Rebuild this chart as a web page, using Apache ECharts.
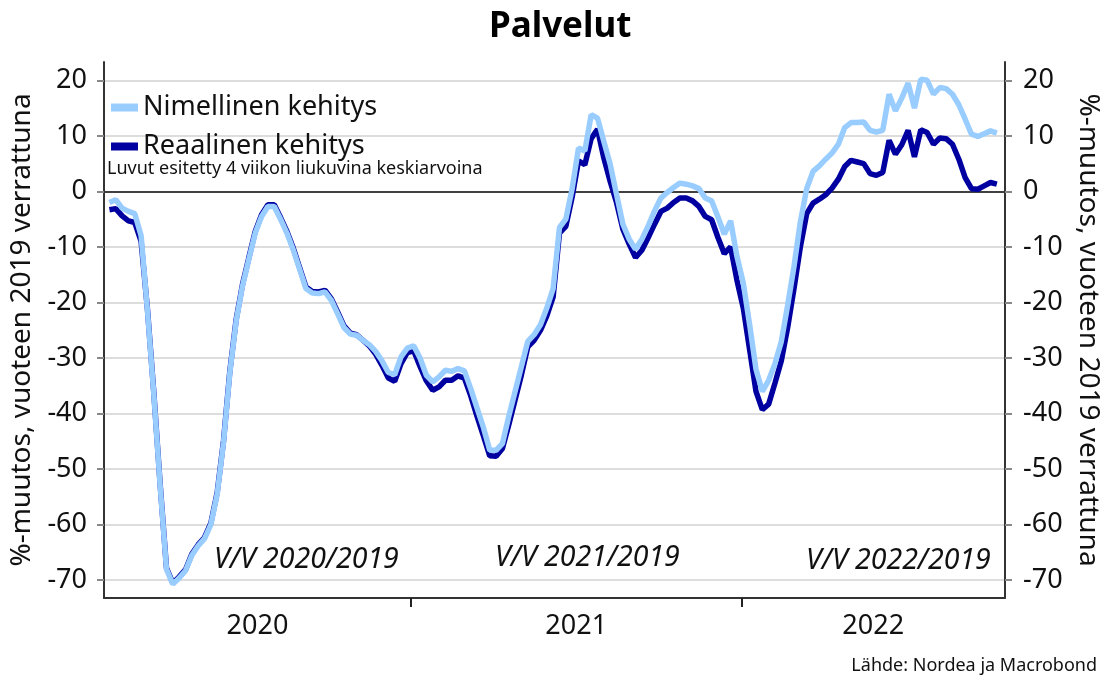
<!DOCTYPE html>
<html>
<head>
<meta charset="utf-8">
<title>Palvelut</title>
<script src="https://cdn.jsdelivr.net/npm/echarts@6/dist/echarts.min.js"></script>
<style>
  html, body { margin: 0; padding: 0; background: #fff; }
  #chart { width: 1100px; height: 678px; }
</style>
</head>
<body>
<div id="chart"></div>
<script>
// x-akseli päivinä 1.1.2020 alkaen; ensimmäinen havainto 3.2.2020 (päivä 33), sitten viikon välein
var firstDay = 33;
var stepDays = 7;

// Nimellinen kehitys, % vuoteen 2019 verrattuna (4 viikon liukuva ka.)
var nominal = [
  -2.0, -1.5, -3.0, -3.6, -4.0, -8.0, -21.5, -36.5, -53, -68,
  -70.7, -69.6, -68.3, -65.5, -63.8, -62.5, -60, -54.5, -45.2, -32.6,
  -23.3, -17, -12.2, -7.5, -4.5, -2.7, -2.7, -5, -7.5, -10.5,
  -14, -17.5, -18.3, -18.4, -18.1, -19.6, -22, -24.5, -25.7, -25.9,
  -26.8, -27.6, -28.8, -30.5, -32.6, -33, -29.8, -28.2, -27.8, -30,
  -33.1, -34.3, -33.4, -32.2, -32.4, -31.9, -32.3, -35.5, -39, -42.5,
  -46.6, -46.6, -45.4, -40.5, -36, -31.5, -27, -25.8, -24, -21,
  -17.5, -6.5, -5, 0.5, 7.8, 7.3, 13.8, 13.2, 9, 4.9,
  -0.5, -5.9, -8.6, -10.4, -8.6, -6.2, -3.5, -1.2, -0.2, 0.7,
  1.5, 1.3, 1.0, 0.5, -1.2, -1.7, -4.6, -7.7, -5.3, -11.7,
  -16.5, -24, -32, -36, -34, -31, -27, -20.5, -13.5, -5.5,
  0.5, 3.6, 4.6, 5.8, 6.9, 8.5, 11.5, 12.4, 12.4, 12.5,
  11, 10.7, 11, 17.5, 14.5, 16.8, 19.5, 15, 20.2, 20,
  17.5, 18.7, 18.5, 17.5, 15.6, 13, 10.3, 9.9, 10.4, 10.9,
  10.5
];

// Reaalinen kehitys
var real = [
  -3.3, -3.1, -4.4, -5.3, -5.6, -9, -21.2, -36.2, -52.7, -67.8,
  -70.5, -69.4, -68.1, -65.3, -63.6, -62.3, -59.7, -54.2, -44.9, -32.3,
  -23, -16.7, -11.9, -7.2, -4.2, -2.4, -2.4, -4.7, -7.2, -10.2,
  -13.7, -17.2, -18, -18.1, -17.8, -19.3, -21.7, -24.2, -25.5, -25.8,
  -26.8, -27.8, -29.3, -31.3, -33.6, -34.2, -31, -29, -28.7, -31.5,
  -34.1, -35.8, -35.2, -34, -34, -33.2, -33.6, -36.8, -40.5, -44,
  -47.6, -47.7, -46.3, -42, -37.5, -33, -28, -26.8, -25, -22.4,
  -19, -7.5, -6.3, -1, 5.5, 4.8, 9.5, 11.2, 6, 1.8,
  -2, -6.8, -9.5, -11.9, -10.6, -8.3, -5.9, -3.6, -3.0, -2.0,
  -1.2, -1.2, -1.7, -2.7, -4.5, -5.1, -8.3, -11.2, -10, -16,
  -21, -28.5, -36, -39.3, -38.3, -34.5, -30.5, -24.5, -17.5, -10,
  -4, -2.1, -1.4, -0.6, 0.6, 2.2, 4.5, 5.6, 5.3, 5,
  3.2, 2.9, 3.4, 9.2, 6.7, 8.4, 11, 6.2, 11.1, 10.6,
  8.5, 9.6, 9.5, 8.5, 5.8, 2.5, 0.5, 0.4, 1, 1.6,
  1.3
];

var yTicks = [-70, -60, -50, -40, -30, -20, -10, 0, 10, 20];
var years = [2020, 2021, 2022];
var yearStarts = [366, 731]; // 1.1.2021 ja 1.1.2022 päivinä
var xMin = 27;    // 28.1.2020
var xMax = 1022;  // 19.10.2022

var seriesNames = ["Nimellinen kehitys", "Reaalinen kehitys"];
var labels = ["V/V 2020/2019", "V/V 2021/2019", "V/V 2022/2019"];
var axisTitle = "%-muutos, vuoteen 2019 verrattuna";

function toPairs(arr) {
  return arr.map(function (v, i) {
    return [firstDay + i * stepDays, v];
  });
}

// vuosien nimet keskelle kunkin vuoden näkyvää osaa
var bounds = [xMin].concat(yearStarts, [xMax]);
var yearMids = years.map(function (y, i) {
  return (bounds[i] + bounds[i + 1]) / 2;
});

var font = "Noto Sans";
var chart = echarts.init(document.getElementById("chart"));

// nollaviiva mustana, muut harmaina
var gridColors = yTicks.map(function (t) {
  return t === 0 ? "#000" : "#d2d2d2";
});

chart.setOption({
  animation: false,
  textStyle: { fontFamily: font },
  title: {
    text: "Palvelut",
    left: 484,
    top: 5,
    textStyle: { fontSize: 35, fontWeight: "bold", color: "#000", fontFamily: font }
  },
  legend: {
    data: seriesNames,
    orient: "vertical",
    left: 106,
    top: 89,
    itemWidth: 27,
    itemHeight: 8,
    itemGap: 12,
    icon: "rect",
    textStyle: { fontSize: 27, color: "#111", fontFamily: font }
  },
  grid: {
    left: 104,
    right: 95,
    top: 62,
    bottom: 80,
    outerBoundsMode: "none"
  },
  xAxis: {
    type: "value",
    min: xMin,
    max: xMax,
    axisLine: { show: true, onZero: false, lineStyle: { color: "#333", width: 2 } },
    axisTick: {
      show: true,
      customValues: yearStarts,
      length: 9,
      lineStyle: { color: "#222", width: 2 }
    },
    axisLabel: {
      customValues: yearMids,
      margin: 15,
      fontSize: 27,
      color: "#111",
      formatter: function (v) {
        var k = yearMids.indexOf(v);
        return k >= 0 ? String(years[k]) : "";
      }
    },
    splitLine: { show: false }
  },
  yAxis: [
    {
      type: "value",
      min: -73.2,
      max: 23.3,
      position: "left",
      name: axisTitle,
      nameLocation: "middle",
      nameGap: 60,
      nameTextStyle: { fontSize: 28, color: "#111" },
      axisLine: { show: true, lineStyle: { color: "#333", width: 2 } },
      axisTick: {
        show: true,
        customValues: yTicks,
        length: 7,
        lineStyle: { color: "#888", width: 2 }
      },
      axisLabel: { customValues: yTicks, fontSize: 27, color: "#111", margin: 17 },
      splitLine: { show: true, lineStyle: { color: gridColors, width: 1.5 } }
    },
    {
      type: "value",
      min: -73.2,
      max: 23.3,
      position: "right",
      name: axisTitle,
      nameLocation: "middle",
      nameRotate: -90,
      nameGap: 60,
      nameTextStyle: { fontSize: 28, color: "#111" },
      axisLine: { show: true, lineStyle: { color: "#333", width: 2 } },
      axisTick: {
        show: true,
        customValues: yTicks,
        length: 7,
        lineStyle: { color: "#888", width: 2 }
      },
      axisLabel: { customValues: yTicks, fontSize: 27, color: "#111", margin: 18 },
      splitLine: { show: false }
    }
  ],
  graphic: [
    {
      type: "text",
      left: 107,
      top: 160,
      style: { text: "Luvut esitetty 4 viikon liukuvina keskiarvoina", fontSize: 18, fill: "#111", fontFamily: font }
    },
    {
      type: "text",
      left: 214,
      top: 545,
      style: { text: labels[0], fontSize: 28.5, fontStyle: "italic", fill: "#111", fontFamily: font }
    },
    {
      type: "text",
      left: 495,
      top: 543,
      style: { text: labels[1], fontSize: 28.5, fontStyle: "italic", fill: "#111", fontFamily: font }
    },
    {
      type: "text",
      left: 806,
      top: 546,
      style: { text: labels[2], fontSize: 28.5, fontStyle: "italic", fill: "#111", fontFamily: font }
    },
    {
      type: "text",
      right: 3,
      top: 657,
      style: { text: "Lähde: Nordea ja Macrobond", fontSize: 18, fill: "#111", fontFamily: font }
    }
  ],
  series: [
    {
      name: seriesNames[1],
      type: "line",
      data: toPairs(real),
      showSymbol: false,
      color: "#0000a0",
      lineStyle: { width: 5.5, color: "#0000a0" },
      z: 2
    },
    {
      name: seriesNames[0],
      type: "line",
      data: toPairs(nominal),
      showSymbol: false,
      color: "#99ccff",
      lineStyle: { width: 5.5, color: "#99ccff" },
      z: 3
    }
  ]
});
</script>
</body>
</html>
